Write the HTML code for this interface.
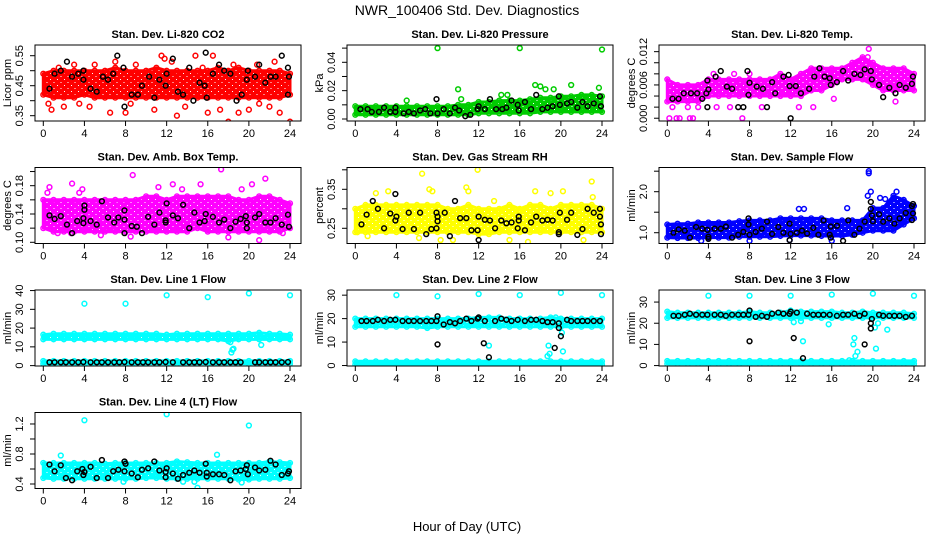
<!DOCTYPE html>
<html><head><meta charset="utf-8">
<style>
html,body{margin:0;padding:0;background:#fff;}
svg{display:block;font-family:"Liberation Sans",Arial,sans-serif;}
</style></head>
<body>
<svg id="chart" width="936" height="540" viewBox="0 0 936 540">
<defs id="defs"></defs>
<text x="467" y="15" font-size="14" text-anchor="middle">NWR_100406  Std. Dev. Diagnostics</text>
<text x="467" y="531" font-size="13" text-anchor="middle">Hour of Day (UTC)</text>
</svg>
<script>
// ---------- data ----------
const envHours = [0,1,2,3,4,5,6,7,8,9,10,11,12,13,14,15,16,17,18,19,20,21,22,23,24];
const xTicks = [0,4,8,12,16,20,24];

// Panel 1: CO2
const co2Lo = [0.42,0.41,0.41,0.41,0.42,0.41,0.41,0.41,0.41,0.41,0.41,0.41,0.41,0.41,0.41,0.41,0.41,0.41,0.41,0.41,0.41,0.41,0.41,0.41,0.42];
const co2Hi = [0.49,0.50,0.50,0.50,0.50,0.50,0.50,0.51,0.50,0.50,0.50,0.51,0.50,0.50,0.50,0.50,0.50,0.51,0.50,0.51,0.50,0.50,0.50,0.50,0.49];
const co2OutX = [0.5,0.8,1.5,2,3.5,4.5,6.5,7,8,9,10.8,11.5,11.8,12.5,13,13.8,14.8,15.5,16,16.5,17.2,18,19,20,20.8,22,22.5,23,24,5,3,18.5,8.5,21];
const co2OutY = [0.39,0.37,0.51,0.38,0.39,0.38,0.36,0.53,0.36,0.52,0.37,0.55,0.54,0.53,0.35,0.38,0.55,0.51,0.36,0.55,0.37,0.33,0.36,0.37,0.52,0.38,0.53,0.36,0.33,0.52,0.52,0.52,0.39,0.39];
const co2BlkX = [0.6,1.1,1.7,2.3,2.8,3.4,3.9,3.9,4.6,5.2,5.8,6.3,6.8,7.2,7.8,7.9,8.6,9.2,9.6,10.3,10.8,11.3,11.9,12,12.6,13.1,13.6,14.2,14.6,15.2,15.7,15.8,15.9,16.5,17.1,17.6,18.2,18.8,19.3,19.8,19.9,20.6,21,21.6,22.1,22.6,23.2,23.8,23.8,23.9];
const co2BlkY = [0.44,0.49,0.50,0.53,0.48,0.49,0.50,0.47,0.44,0.43,0.48,0.47,0.49,0.55,0.51,0.38,0.42,0.42,0.45,0.48,0.41,0.47,0.45,0.49,0.54,0.43,0.42,0.51,0.40,0.46,0.45,0.56,0.41,0.49,0.52,0.50,0.49,0.40,0.42,0.47,0.50,0.48,0.52,0.46,0.48,0.48,0.55,0.51,0.42,0.48];

// Panel 2: pressure
const prLo = [0.003,0.003,0.003,0.003,0.003,0.003,0.003,0.003,0.003,0.003,0.003,0.003,0.004,0.004,0.004,0.004,0.004,0.004,0.005,0.005,0.005,0.005,0.005,0.005,0.005];
const prHi = [0.009,0.009,0.009,0.009,0.009,0.009,0.009,0.009,0.009,0.009,0.010,0.010,0.012,0.012,0.013,0.013,0.013,0.014,0.015,0.015,0.016,0.016,0.017,0.017,0.016];
const prOutX = [8,16,24,5,10,10.3,17.5,18,19.3,21,23.7,14.8,14.2,18.5];
const prOutY = [0.050,0.050,0.049,0.013,0.021,0.014,0.024,0.023,0.021,0.024,0.022,0.017,0.017,0.021];
const prBlkX = [0.5,1.2,1.6,2.3,2.8,3.4,3.9,3.9,4.7,5.2,5.7,6.3,6.8,7.3,7.9,8,8.6,9.2,9.7,10.1,10.7,11.2,11.9,12,12.6,13.1,13.7,14.3,14.7,15.2,15.8,15.9,16.5,17.1,17.6,18.2,18.7,19.2,19.8,19.9,20.6,21,21.6,22.1,22.6,23.2,23.8,23.9];
const prBlkY = [0.007,0.007,0.005,0.005,0.008,0.005,0.008,0.005,0.004,0.005,0.004,0.006,0.007,0.004,0.014,0.004,0.007,0.004,0.008,0.006,0.002,0.003,0.007,0.009,0.007,0.014,0.007,0.007,0.008,0.013,0.010,0.006,0.012,0.007,0.017,0.007,0.008,0.009,0.016,0.010,0.011,0.012,0.008,0.012,0.009,0.011,0.016,0.009];

// Panel 3: Li-820 temp
const ltLo = [0.003,0.003,0.003,0.003,0.004,0.004,0.004,0.004,0.004,0.004,0.004,0.004,0.004,0.004,0.005,0.005,0.006,0.007,0.007,0.007,0.006,0.005,0.005,0.005,0.005];
const ltHi = [0.007,0.006,0.006,0.006,0.007,0.007,0.007,0.007,0.007,0.007,0.007,0.008,0.007,0.008,0.009,0.009,0.009,0.009,0.010,0.011,0.010,0.009,0.009,0.009,0.008];
const ltOutX = [0.2,0.9,1.2,2.2,2.5,7.3,0.5,2,3,4.8,6.1,9.2,12.8,14.2,4.5,6.5,8,19.6,16.2,22.2,19.5];
const ltOutY = [0,0,0,0,0,0,0.002,0.002,0.002,0.002,0.002,0.002,0.002,0.002,0.008,0.008,0.008,0.0125,0.0035,0.003,0.011];
const ltBlkX = [0.5,1.1,1.6,2.3,2.9,3.4,3.8,3.9,3.9,4,4.7,5.2,5.8,6.3,6.9,7.4,7.8,7.9,8,8.7,9.3,9.7,10.2,10.5,11.3,11.8,12,11.9,12.5,13,13.8,14.3,14.8,15.3,15.8,15.9,16.5,17.1,17.6,18.2,18.8,19.2,19.8,19.9,20.6,21,21.6,22.2,22.6,23.2,23.8,23.9];
const ltBlkY = [0.0035,0.0035,0.0045,0.0045,0.0045,0.0035,0.0045,0.002,0.0068,0.0052,0.0075,0.0085,0.0057,0.0053,0.002,0.002,0.0085,0.0042,0.0064,0.0057,0.0053,0.002,0.0065,0.0045,0.0075,0.0078,0.0,0.0058,0.0058,0.0045,0.0053,0.0075,0.0090,0.0075,0.0072,0.006,0.0065,0.0085,0.0068,0.0080,0.0078,0.0088,0.0085,0.007,0.0060,0.0038,0.0055,0.0045,0.0060,0.0055,0.0062,0.0075];

// Panel 4: amb box temp
const abLo = [0.12,0.115,0.115,0.115,0.115,0.115,0.115,0.115,0.115,0.115,0.115,0.115,0.115,0.115,0.115,0.12,0.115,0.115,0.115,0.115,0.115,0.115,0.115,0.115,0.12];
const abHi = [0.16,0.16,0.16,0.16,0.16,0.16,0.16,0.16,0.16,0.16,0.165,0.165,0.16,0.165,0.165,0.165,0.165,0.165,0.165,0.16,0.16,0.165,0.165,0.16,0.155];
const abOutX = [0.4,0.6,2.8,3.5,3.8,5.6,8.7,8.5,11.2,12.6,13.5,15.3,17.3,18,19.3,20.3,21,21.6,1.4,23.3,2.7];
const abOutY = [0.17,0.178,0.183,0.17,0.175,0.11,0.195,0.108,0.178,0.182,0.175,0.182,0.203,0.107,0.175,0.182,0.103,0.19,0.113,0.113,0.113];
const abBlkX = [0.6,1.1,1.7,2.3,2.8,3.3,3.9,3.9,4,4,4.6,5.2,5.7,6.3,6.9,7.3,7.9,7.9,7.9,8.6,9.1,9.6,10.2,10.8,11.3,11.9,12,11.9,12.6,13.1,13.6,14.2,14.7,15.2,15.7,15.8,16.5,17.1,17.6,18.2,18.7,19.2,19.7,19.8,19.8,20.6,21,21.6,22.1,22.6,23.2,23.8,23.9];
const abBlkY = [0.138,0.133,0.137,0.125,0.113,0.130,0.127,0.134,0.146,0.152,0.13,0.125,0.158,0.135,0.128,0.135,0.145,0.132,0.113,0.123,0.122,0.113,0.136,0.125,0.142,0.131,0.155,0.128,0.138,0.134,0.153,0.12,0.142,0.128,0.130,0.140,0.136,0.128,0.132,0.120,0.129,0.133,0.137,0.128,0.120,0.135,0.140,0.128,0.128,0.134,0.125,0.139,0.122];

// Panel 5: gas stream RH
const rhLo = [0.24,0.24,0.24,0.24,0.24,0.24,0.24,0.24,0.24,0.24,0.24,0.24,0.235,0.235,0.24,0.24,0.24,0.24,0.24,0.24,0.24,0.24,0.24,0.24,0.24];
const rhHi = [0.30,0.31,0.31,0.31,0.31,0.31,0.31,0.31,0.31,0.30,0.30,0.31,0.30,0.30,0.30,0.31,0.30,0.31,0.31,0.30,0.31,0.31,0.31,0.31,0.30];
const rhOutX = [0.2,1.2,2,3.2,6.5,7.2,7.5,8.3,10.8,11.9,11,13.5,16.8,17.5,19,20.2,23,23.1,6.2,9.5,15,22.2];
const rhOutY = [0.24,0.23,0.34,0.345,0.39,0.35,0.345,0.22,0.355,0.40,0.345,0.32,0.215,0.345,0.34,0.345,0.37,0.33,0.225,0.22,0.22,0.22];
const rhBlkX = [0.6,1.1,1.7,2.2,2.8,3.4,3.9,3.9,4.0,4.6,5.2,5.7,6.3,6.9,7.4,7.9,7.9,8,8,8.7,9.2,9.7,10.2,10.8,11.3,11.9,12,12,12.6,13.1,13.6,14.2,14.7,15.2,15.8,15.9,15.9,16.5,17.1,17.6,18.2,18.7,19.2,19.8,19.8,19.9,20.6,21,21.6,22.1,22.6,23.2,23.8,23.8,23.9,23.9];
const rhBlkY = [0.26,0.285,0.32,0.30,0.25,0.288,0.338,0.27,0.28,0.248,0.29,0.248,0.29,0.235,0.248,0.29,0.25,0.268,0.28,0.29,0.23,0.32,0.276,0.276,0.245,0.245,0.28,0.22,0.272,0.27,0.25,0.27,0.263,0.265,0.25,0.28,0.27,0.245,0.265,0.28,0.27,0.272,0.27,0.24,0.235,0.29,0.272,0.29,0.233,0.248,0.30,0.29,0.30,0.28,0.26,0.235];

// Panel 6: sample flow
const sfLo = [0.88,0.87,0.87,0.87,0.88,0.88,0.88,0.9,0.9,0.9,0.9,0.92,0.93,0.93,0.93,0.92,0.92,0.92,0.95,1.0,1.05,1.05,1.05,1.2,1.35];
const sfHi = [1.2,1.22,1.22,1.25,1.25,1.25,1.25,1.28,1.3,1.3,1.3,1.35,1.35,1.35,1.35,1.35,1.3,1.3,1.3,1.3,1.6,1.6,1.9,1.8,1.65];
const sfOutX = [19.6,19.6,19.8,19.5,20.7,21.2,22.3,17.5,12.8,13.3,3.3,8,16,11.9];
const sfOutY = [2.5,2.45,2.0,1.9,1.85,1.82,2.0,1.6,1.58,1.58,0.8,0.8,0.8,0.82];
const sfBlkX = [0.6,1.1,1.7,2.2,2.8,3.4,3.9,4,4,4.6,5.2,5.7,6.3,6.9,7.4,7.9,7.9,8,8.6,9.2,9.7,10.2,10.8,11.3,11.9,11.9,12,12.6,13.1,13.6,14.2,14.7,15.2,15.8,15.9,15.9,16.5,17.1,17.6,18.2,18.7,19.2,19.8,19.8,19.9,20,20.6,21,21.6,22.1,22.6,23.2,23.8,23.8,23.9,23.9];
const sfBlkY = [1.0,1.08,1.05,0.88,1.14,1.1,1.07,0.9,0.85,1.1,1.1,1.15,0.88,0.95,1.02,1.35,1.2,0.95,1.02,1.1,1.27,0.97,1.14,1.0,1.22,0.82,0.97,1.0,1.05,0.98,1.12,0.95,1.3,0.95,1.15,0.88,1.17,0.8,1.3,0.95,1.1,1.27,1.75,1.58,1.42,1.28,1.45,1.27,1.35,1.22,1.35,1.48,1.65,1.31,1.7,1.47];

// black-point hours shared by flow panels 7-9
const flowBlkX = [0.6,1.1,1.7,2.2,2.8,3.4,3.9,4.6,5.2,5.7,6.3,6.9,7.4,7.9,8.6,9.2,9.7,10.2,10.8,11.3,11.9,12.6,13.6,14.2,14.7,15.2,15.8,16.5,17.1,17.6,18.2,18.7,19.2,20.6,21,21.6,22.1,22.6,23.2,23.8];

// Panel 7: line 1 flow
const l1Lo = [14,14,14,14,14,14,14,14,14,14,14,14,14,14,14,14,14,14,13,14,14,14,14,14,14];
const l1Hi = [16.5,17,17,17,17,17,17,17,17,17,17,17,16.5,17,17,17,17,17,17,17,17,17.5,17,17,16.5];
const l1BotLo = [1,1,1,1,1,1,1,1,1,1,1,1,1,1,1,1,1,1,1,1,1,1,1,1,1];
const l1BotHi = [2.5,2.5,2.5,2.5,2.5,2.5,2.5,2.5,2.5,2.5,2.5,2.5,2.5,2.5,2.5,2.5,2.5,2.5,2.5,2.5,2.5,2.5,2.5,2.5,2.5];
const l1OutX = [4,8,12,16,20,24,18.2,18.4,18.3,21.2,18.5];
const l1OutY = [33,33,37.5,36.5,38.5,37.5,12.5,8.5,7,11,9];
const l1BlkY = [1.8,1.8,1.8,1.8,1.8,1.8,1.9,1.8,1.8,1.8,1.8,1.8,1.8,1.9,1.8,1.8,1.8,1.8,1.8,1.8,1.9,1.8,1.8,1.8,1.8,1.8,1.9,1.8,1.8,1.8,1.8,1.8,1.8,1.8,1.8,1.8,1.8,1.8,1.8,1.9];

// Panel 8: line 2 flow
const l2Lo = [16.5,16.5,16.5,16.5,16.5,16.5,16.5,16,16.5,16.5,16.5,16.5,16.5,16.5,16.5,16.5,16.5,16.5,16.5,16.5,16.5,16.5,16.5,16.5,16.5];
const l2Hi = [20,20,20,20,20,20,20,20,20,20,20,20,20.5,20.5,20.5,20,20,20,20,20.5,20,20,20,20,20];
const l2BotLo = [0.5,0.5,0.5,0.5,0.5,0.5,0.5,0.5,0.5,0.5,0.5,0.5,0.5,0.5,0.5,0.5,0.5,0.5,0.5,0.5,0.5,0.5,0.5,0.5,0.5];
const l2BotHi = [1.8,1.8,1.8,1.8,1.8,1.8,1.8,1.8,1.8,1.8,1.8,1.8,1.8,1.8,1.8,1.8,1.8,1.8,1.8,1.8,1.8,1.8,1.8,1.8,1.8];
const l2OutX = [4,8,12,16,20,24,18.8,18.7,18.9,19.5,13,20.2,20.1];
const l2OutY = [30,29.5,30.5,30,31,30,8.5,4,5,20.5,8.5,6,14];
const l2ExtraX = [8,12.5,13,19.4,19.8,20,19.8,8,12];
const l2ExtraY = [9,9.5,3.5,7.5,16,12.5,18,21,20.5];
const l2BlkY = [19,19,19,19.5,19,19.5,19.5,19,19,19,19,19,19,19,17.5,18.5,18,19,20,19,20,19,19,20,19.5,19,19.5,19,19.5,19.5,19,18.5,18.5,19.5,19,19,19,19,19,19];

// Panel 9: line 3 flow
const l3Lo = [22.5,22.5,22.5,22.5,22.5,22.5,22.5,22.5,22.5,22.5,22.5,22.5,22.5,22.5,22.5,22.5,22.5,22.5,22.5,22.5,22.5,22.5,22.5,22.5,22.5];
const l3Hi = [25.5,25,25,25,25,25,25,25,25.5,25,25,25,26,25.5,25.5,25.5,25.5,25,25,25.5,25,25,25,25,24.5];
const l3BotLo = [0.8,0.8,0.8,0.8,0.8,0.8,0.8,0.8,0.8,0.8,0.8,0.8,0.8,0.8,0.8,0.8,0.8,0.8,0.8,0.8,0.8,0.8,0.8,0.8,0.8];
const l3BotHi = [2.2,2.2,2.2,2.2,2.2,2.2,2.2,2.2,2.2,2.2,2.2,2.2,2.2,2.2,2.2,2.2,2.2,2.2,2.2,2.2,2.2,2.2,2.2,2.2,2.2];
const l3OutX = [4,8,12,16,20,24,12.3,13.2,13,15.7,18.2,18.1,18.5,18.3,20.3,20.5,21.4,17.7,20.2];
const l3OutY = [33,33,33,33.5,34,33,20.5,11.5,21,19.5,13,10,6.5,4.5,8,20,17,2.5,18];
const l3ExtraX = [8,12.3,13.2,19.2,19.8,19.8,19.9,8,12];
const l3ExtraY = [11.5,13,3.5,10,17.5,20,22,26,25.5];
const l3BlkY = [23.5,23.5,24,24.5,24,24,24,24,24,23.5,24,24,24,24,23,23.5,23,24.5,25,24.5,24.5,25,24.5,24,24,24,24,23.5,24,24,24.5,23.5,24.5,24,23.5,23.5,23.5,23.5,23,23.5];

// Panel 10: line 4 flow
const l4Lo = [0.48,0.47,0.47,0.47,0.47,0.47,0.47,0.47,0.47,0.47,0.48,0.48,0.47,0.47,0.47,0.47,0.47,0.47,0.47,0.46,0.46,0.47,0.47,0.47,0.48];
const l4Hi = [0.68,0.68,0.68,0.68,0.68,0.68,0.67,0.68,0.68,0.68,0.68,0.68,0.68,0.70,0.69,0.68,0.68,0.68,0.68,0.68,0.68,0.68,0.70,0.69,0.68];
const l4OutX = [4,12,20,15,1.7,16.9,14.7,19.3,7.8,13.6];
const l4OutY = [1.25,1.33,1.18,0.35,0.78,0.79,0.43,0.42,0.43,0.43];
const l4BlkX = [0.6,1.1,1.7,2.2,2.8,3.3,3.8,3.9,4,4.6,5.2,5.7,6.3,6.8,7.3,7.9,7.9,8,8.6,9.2,9.6,10.2,10.8,11.3,11.9,12,11.9,12.6,13.1,13.6,14.2,14.7,15.2,15.8,15.9,15.9,16.5,17.1,17.6,18.2,18.7,19.2,19.7,19.8,19.9,20.6,21,21.6,22.1,22.6,23.2,23.8,23.9];
const l4BlkY = [0.66,0.57,0.65,0.48,0.45,0.57,0.6,0.52,0.56,0.63,0.48,0.72,0.48,0.57,0.59,0.70,0.57,0.67,0.54,0.49,0.59,0.61,0.70,0.58,0.49,0.61,0.56,0.54,0.47,0.52,0.55,0.58,0.55,0.67,0.50,0.55,0.53,0.53,0.52,0.45,0.57,0.58,0.60,0.65,0.53,0.62,0.58,0.59,0.71,0.66,0.52,0.54,0.57];

// ---------- drawing ----------
const NS = 'http://www.w3.org/2000/svg';
const svg = document.getElementById('chart');
const defs = document.getElementById('defs');
const colL = [35,347,659], rowT = [45,167.5,290,412.5], W = 266, H = 76;

function mk(tag, attrs, parent){
  const e = document.createElementNS(NS, tag);
  for (const k in attrs) e.setAttribute(k, attrs[k]);
  (parent||svg).appendChild(e);
  return e;
}

// speckle texture pattern per colour (mimics overlapping open circles)
const patIds = {};
function patternFor(col){
  if (patIds[col]) return patIds[col];
  const id = 'pat' + Object.keys(patIds).length;
  const pt = mk('pattern', {id:id, width:7, height:6, patternUnits:'userSpaceOnUse'}, defs);
  mk('rect', {x:0, y:0, width:7, height:6, fill:col}, pt);
  mk('rect', {x:1, y:1, width:1, height:1, fill:'#fff'}, pt);
  mk('rect', {x:4.5, y:4, width:1, height:1, fill:'#fff'}, pt);
  patIds[col] = id;
  return id;
}

const panels = [
 {title:'Stan. Dev. Li-820 CO2', ylab:'Licor ppm', c:0,r:0, ymin:0.3323,ymax:0.5857, ticks:[0.35,0.40,0.45,0.50,0.55], labs:[0.35,0.45,0.55], dec:2, col:'#ff0000',
  bands:[[co2Lo,co2Hi]], outX:co2OutX,outY:co2OutY, blkX:co2BlkX, blkY:co2BlkY},
 {title:'Stan. Dev. Li-820 Pressure', ylab:'kPa', c:1,r:0, ymin:-0.0014,ymax:0.0522, ticks:[0,0.01,0.02,0.03,0.04,0.05], labs:[0,0.02,0.04], dec:2, col:'#00cc00',
  bands:[[prLo,prHi]], outX:prOutX,outY:prOutY, blkX:prBlkX, blkY:prBlkY},
 {title:'Stan. Dev. Li-820 Temp.', ylab:'degrees C', c:2,r:0, ymin:-0.0005,ymax:0.0132, ticks:[0,0.002,0.004,0.006,0.008,0.010,0.012], labs:[0,0.006,0.012], dec:3, col:'#ff00ff',
  bands:[[ltLo,ltHi]], outX:ltOutX,outY:ltOutY, blkX:ltBlkX, blkY:ltBlkY},
 {title:'Stan. Dev. Amb. Box Temp.', ylab:'degrees C', c:0,r:1, ymin:0.0983,ymax:0.2057, ticks:[0.10,0.12,0.14,0.16,0.18,0.20], labs:[0.10,0.14,0.18], dec:2, col:'#ff00ff',
  bands:[[abLo,abHi]], outX:abOutX,outY:abOutY, blkX:abBlkX, blkY:abBlkY},
 {title:'Stan. Dev. Gas Stream RH', ylab:'percent', c:1,r:1, ymin:0.211,ymax:0.4059, ticks:[0.25,0.30,0.35,0.40], labs:[0.25,0.35], dec:2, col:'#ffff00',
  bands:[[rhLo,rhHi]], outX:rhOutX,outY:rhOutY, blkX:rhBlkX, blkY:rhBlkY},
 {title:'Stan. Dev. Sample Flow', ylab:'ml/min', c:2,r:1, ymin:0.737,ymax:2.59, ticks:[1.0,1.5,2.0,2.5], labs:[1.0,2.0], dec:1, col:'#0000ff',
  bands:[[sfLo,sfHi]], outX:sfOutX,outY:sfOutY, blkX:sfBlkX, blkY:sfBlkY},
 {title:'Stan. Dev. Line 1 Flow', ylab:'ml/min', c:0,r:2, ymin:-0.2,ymax:40.3, ticks:[0,10,20,30,40], labs:[0,10,20,30,40], dec:0, col:'#00ffff',
  bands:[[l1Lo,l1Hi],[l1BotLo,l1BotHi]], outX:l1OutX,outY:l1OutY, blkX:flowBlkX, blkY:l1BlkY},
 {title:'Stan. Dev. Line 2 Flow', ylab:'ml/min', c:1,r:2, ymin:-0.2,ymax:32.2, ticks:[0,10,20,30], labs:[0,10,20,30], dec:0, col:'#00ffff',
  bands:[[l2Lo,l2Hi],[l2BotLo,l2BotHi]], outX:l2OutX,outY:l2OutY, blkX:flowBlkX.concat(l2ExtraX), blkY:l2BlkY.concat(l2ExtraY)},
 {title:'Stan. Dev. Line 3 Flow', ylab:'ml/min', c:2,r:2, ymin:-0.2,ymax:35.7, ticks:[0,10,20,30], labs:[0,10,20,30], dec:0, col:'#00ffff',
  bands:[[l3Lo,l3Hi],[l3BotLo,l3BotHi]], outX:l3OutX,outY:l3OutY, blkX:flowBlkX.concat(l3ExtraX), blkY:l3BlkY.concat(l3ExtraY)},
 {title:'Stan. Dev. Line 4 (LT) Flow', ylab:'ml/min', c:0,r:3, ymin:0.34,ymax:1.353, ticks:[0.4,0.6,0.8,1.0,1.2], labs:[0.4,0.8,1.2], dec:1, col:'#00ffff',
  bands:[[l4Lo,l4Hi]], outX:l4OutX,outY:l4OutY, blkX:l4BlkX, blkY:l4BlkY},
];

panels.forEach((p, i) => {
  const L = colL[p.c], T = rowT[p.r], B = T + H;
  const xs = h => L + 8.3 + h * (246.7 / 24);
  const ys = v => B - (v - p.ymin) / (p.ymax - p.ymin) * H;
  const g = mk('g', {});
  
  

  const clipId = 'clip' + i;
  const cp = mk('clipPath', {id: clipId}, g);
  mk('rect', {x:L, y:T, width:W, height:H}, cp);
  const plot = mk('g', {'clip-path':'url(#'+clipId+')'}, g);
  
  

  const pid = patternFor(p.col);
  p.bands.forEach(([lo, hi]) => {
    let d = '';
    envHours.forEach((h, k) => { d += (k ? 'L' : 'M') + xs(h).toFixed(1) + ' ' + ys(hi[k]).toFixed(1); });
    for (let k = envHours.length - 1; k >= 0; k--) d += 'L' + xs(envHours[k]).toFixed(1) + ' ' + ys(lo[k]).toFixed(1);
    const band = mk('path', {d: d + 'Z', fill: 'url(#'+pid+')', stroke: p.col, 'stroke-width': 3, 'stroke-linejoin': 'round'}, plot);
    
    
    envHours.forEach((h, k) => {
      [lo[k], hi[k]].forEach(v => {
        const c = mk('circle', {cx: xs(h), cy: ys(v), r: 2.4, fill: 'none', stroke: p.col, 'stroke-width': 1.4}, plot);
        
        
      });
    });
  });
  p.outX.forEach((x, k) => {
    const c = mk('circle', {cx: xs(x), cy: ys(p.outY[k]), r: 2.4, fill: 'none', stroke: p.col, 'stroke-width': 1.5}, plot);
    
    
  });
  p.blkX.forEach((x, k) => {
    const c = mk('circle', {cx: xs(x), cy: ys(p.blkY[k]), r: 2.4, fill: 'none', stroke: '#000', 'stroke-width': 1.5}, plot);
    
    
  });

  const fr = mk('rect', {x:L, y:T, width:W, height:H, fill:'none', stroke:'#000', 'stroke-width':1}, g);
  
  

  xTicks.forEach(t => {
    const x = xs(t);
    mk('line', {x1:x, x2:x, y1:B, y2:B+5, stroke:'#000'}, g);
    const tx = mk('text', {x:x, y:B+16, 'font-size':11, 'text-anchor':'middle'}, g);
    tx.textContent = t;
    
    
  });
  p.ticks.forEach(t => {
    const y = ys(t);
    mk('line', {x1:L-5, x2:L, y1:y, y2:y, stroke:'#000'}, g);
  });
  p.labs.forEach(t => {
    const y = ys(t);
    const tx = mk('text', {x:0, y:0, 'font-size':11, 'text-anchor':'middle', transform:'translate('+(L-12)+','+y+') rotate(-90)'}, g);
    tx.textContent = t.toFixed(p.dec);
    
    
  });
  const yl = mk('text', {x:0, y:0, 'font-size':11, 'text-anchor':'middle', transform:'translate('+(L-24)+','+(T+H/2)+') rotate(-90)'}, g);
  yl.textContent = p.ylab;
  
  

  const tt = mk('text', {x:L+W/2, y:T-7, 'font-size':11, 'font-weight':'bold', 'text-anchor':'middle'}, g);
  tt.textContent = p.title;
  
  
});
</script>
</body></html>
